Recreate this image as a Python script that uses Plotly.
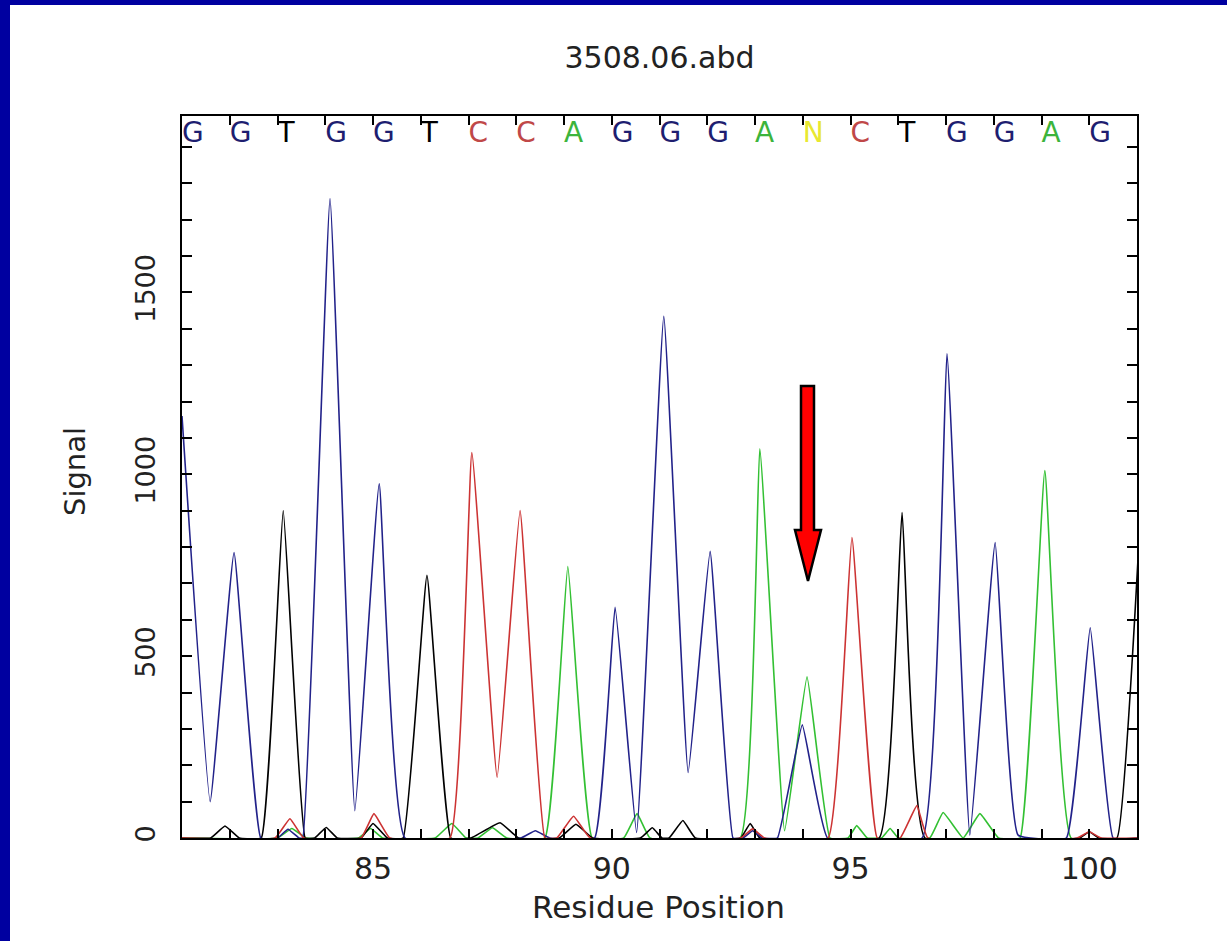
import plotly.graph_objects as go

# ---------------- data ----------------
base_pos = list(range(81, 101))
base_calls = list("GGTGGTCCAGGGANCTGGAG")

# G channel (blue) : vertices of the trace
g_x = [81.00, 81.59, 82.09, 82.65, 83.00, 83.22, 83.45, 83.53, 84.10, 84.62, 85.13, 85.67,
       88.10, 88.40, 88.70, 89.64, 90.07, 90.52, 91.09, 91.60, 92.06, 92.54, 92.75, 92.95,
       93.15, 93.47, 93.99, 94.52, 96.50, 97.02, 97.50, 98.03, 98.51, 99.52, 100.02, 100.50, 101.02]
g_y = [1160, 100, 785, 0, 0, 24, 0, 0, 1758, 75, 974, 0,
       0, 20, 0, 0, 634, 15, 1434, 180, 788, 0, 0, 20,
       0, 0, 311, 0, 0, 1331, 8, 812, 8, 0, 578, 0, 0]

# T channel (black)
t_x = [81.00, 81.60, 81.90, 82.20, 82.66, 83.12, 83.58, 83.78, 84.02, 84.25, 84.75, 85.00, 85.30,
       85.63, 86.13, 86.63, 87.05, 87.66, 88.05, 88.90, 89.25, 89.60, 90.60, 90.85, 91.05,
       91.20, 91.49, 91.75, 92.70, 92.90, 93.10, 95.60, 96.08, 96.56, 99.80, 100.00, 100.20,
       100.58, 101.02]
t_y = [0, 0, 33, 0, 0, 900, 0, 0, 29, 0, 0, 40, 0,
       0, 722, 0, 0, 42, 0, 0, 38, 0, 0, 28, 0,
       0, 48, 0, 0, 40, 0, 0, 895, 0, 0, 17, 0,
       0, 765]

# C channel (red)
c_x = [81.00, 82.95, 83.26, 83.55, 84.75, 85.02, 85.35, 86.61, 87.07, 87.60, 88.08, 88.60,
       88.85, 89.20, 89.55, 92.70, 92.95, 93.20, 94.53, 95.03, 95.56, 96.04, 96.39, 96.62,
       99.75, 100.00, 100.25, 101.02]
c_y = [0, 0, 53, 0, 0, 67, 0, 0, 1060, 167, 900, 0,
       0, 60, 0, 0, 25, 0, 0, 826, 0, 0, 89, 0,
       0, 17, 0, 0]

# A channel (green)
a_x = [81.00, 83.00, 83.30, 83.60, 84.70, 84.95, 85.20, 86.30, 86.65, 86.95, 87.20, 87.50,
       87.80, 88.60, 89.08, 89.59, 90.25, 90.53, 90.80, 92.69, 93.10, 93.62, 94.09, 94.57,
       94.95, 95.13, 95.35, 95.65, 95.83, 96.00, 96.66, 96.94, 97.36, 97.71, 98.10, 98.55,
       99.07, 99.62, 101.02]
a_y = [0, 0, 26, 0, 0, 26, 0, 0, 40, 0, 0, 28,
       0, 0, 746, 0, 0, 67, 0, 0, 1070, 20, 443, 0,
       0, 34, 0, 0, 26, 0, 0, 70, 0, 67, 0, 0,
       1010, 0, 0]

channel_colors = {"G": "#22228a", "T": "#000000", "C": "#cc3333", "A": "#33c033"}
letter_colors = {"G": "#1e1e70", "T": "#000000", "C": "#c04848", "A": "#3cb43c", "N": "#e8e830"}

# ---------------- figure ----------------
W, H = 1227, 941
L, R, T, B = 182, 1137, 116, 838


def px(x, y):
    return (x - L) / (R - L), (B - y) / (B - T)


fig = go.Figure()
for name, xs, ys in [("A", a_x, a_y), ("T", t_x, t_y), ("G", g_x, g_y), ("C", c_x, c_y)]:
    fig.add_trace(go.Scatter(x=xs, y=ys, mode="lines", name=name,
                             line=dict(color=channel_colors[name], width=1.6,
                                       shape="spline", smoothing=0.3),
                             hoverinfo="skip", showlegend=False))

fig.add_trace(go.Scatter(
    x=base_pos, y=[1934] * len(base_pos), mode="text", text=base_calls,
    textposition="middle right",
    textfont=dict(family="DejaVu Sans", size=28,
                  color=[letter_colors[b] for b in base_calls]),
    hoverinfo="skip", showlegend=False))

axis_common = dict(showline=True, linecolor="black", linewidth=2, mirror="ticks",
                   ticks="inside", tickcolor="black", tickwidth=2, showgrid=False,
                   zeroline=False)

fig.update_xaxes(range=[81.0, 101.0], dtick=5, tick0=0, ticklen=9,
                 minor=dict(dtick=1, ticks="inside", ticklen=9, tickcolor="black",
                            tickwidth=2, showgrid=False),
                 tickfont=dict(family="DejaVu Sans", size=30, color="#222"),
                 ticklabelstandoff=3, **axis_common)
fig.update_yaxes(range=[0, 1985], dtick=500, tick0=0, ticklen=10, tickangle=-90,
                 minor=dict(dtick=100, ticks="inside", ticklen=10, tickcolor="black",
                            tickwidth=2, showgrid=False),
                 tickfont=dict(family="DejaVu Sans", size=27, color="#222"),
                 ticklabelstandoff=14, **axis_common)

# blue frame strips
fig.add_shape(type="rect", xref="paper", yref="paper", x0=px(0, 0)[0], x1=px(10, 0)[0],
              y0=px(0, H)[1], y1=px(0, 0)[1],
              fillcolor="#0000a0", line_width=0, layer="above")
fig.add_shape(type="rect", xref="paper", yref="paper", x0=px(0, 0)[0], x1=px(W, 0)[0],
              y0=px(0, 5)[1], y1=px(0, 0)[1], fillcolor="#0000a0", line_width=0, layer="above")

# red arrow
arrow_pts = [(801, 386), (814, 386), (814, 530), (821, 530), (808, 581), (795, 530), (801, 530)]
path = "M " + " L ".join("{:.5f},{:.5f}".format(*px(a, b)) for a, b in arrow_pts) + " Z"
fig.add_shape(type="path", xref="paper", yref="paper", path=path,
              fillcolor="#ff0000", line=dict(color="black", width=2.5), layer="above")

# axis titles
fig.add_annotation(text="Residue Position", xref="paper", yref="paper",
                   x=px(658, 0)[0], y=px(0, 907)[1], showarrow=False,
                   font=dict(family="DejaVu Sans", size=31, color="#222"),
                   xanchor="center", yanchor="middle")
fig.add_annotation(text="Signal", xref="paper", yref="paper", textangle=-90,
                   x=px(75, 0)[0], y=px(0, 472)[1], showarrow=False,
                   font=dict(family="DejaVu Sans", size=29, color="#222"),
                   xanchor="center", yanchor="middle")

fig.update_layout(
    width=W, height=H,
    margin=dict(l=L, r=W - R, t=T, b=H - B),
    paper_bgcolor="white", plot_bgcolor="white",
    title=dict(text="3508.06.abd", x=0.5, xref="paper", xanchor="center",
               y=1 - 57 / H, yref="container", yanchor="middle",
               font=dict(family="DejaVu Sans", size=30, color="#222")),
    showlegend=False,
)

fig.write_html("out.html")
